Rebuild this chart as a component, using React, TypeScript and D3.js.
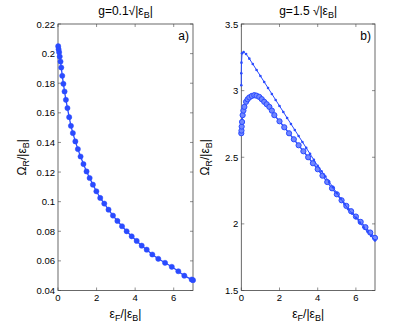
import React from "react";
import * as d3 from "d3";

// panel a) g = 0.1 sqrt|eB|
const aEps = [0.01, 0.03, 0.06, 0.09, 0.13, 0.17, 0.22, 0.28, 0.34, 0.41, 0.49, 0.58, 0.67, 0.77, 0.9, 1.03, 1.17, 1.32, 1.48, 1.64, 1.81, 1.99, 2.19, 2.4, 2.62, 2.85, 3.08, 3.32, 3.56, 3.82, 4.08, 4.34, 4.6, 4.89, 5.2, 5.55, 5.9, 6.24, 6.55, 6.93, 7.0];
const aOmega = [0.205, 0.203, 0.201, 0.198, 0.1946, 0.1906, 0.185, 0.1796, 0.1744, 0.1688, 0.1632, 0.1571, 0.1512, 0.1463, 0.1407, 0.1355, 0.1305, 0.1254, 0.1204, 0.116, 0.1115, 0.107, 0.1025, 0.0987, 0.0946, 0.0906, 0.087, 0.0834, 0.08, 0.0766, 0.0735, 0.0703, 0.0676, 0.0643, 0.0614, 0.0587, 0.056, 0.053, 0.05, 0.0474, 0.047];

// panel b) g = 1.5 sqrt|eB|, upper branch (dots)
const bUpEps = [0, 0, 0.01, 0.04, 0.12, 0.25, 0.42, 0.6, 0.8, 1.0, 1.2, 1.4, 1.6, 1.8, 2.0, 2.2, 2.4, 2.6, 2.8, 3.0, 3.2, 3.4, 3.6, 3.8, 4.0, 4.2, 4.4, 4.6, 4.8, 5.0, 5.2, 5.4, 5.6, 5.8, 6.0, 6.2, 6.4, 6.6, 6.8, 7.0];
const bUpOmega = [3.04, 3.13, 3.21, 3.28, 3.29, 3.275, 3.24, 3.2, 3.155, 3.11, 3.065, 3.02, 2.975, 2.93, 2.885, 2.84, 2.795, 2.75, 2.705, 2.66, 2.615, 2.57, 2.525, 2.48, 2.435, 2.395, 2.355, 2.315, 2.275, 2.232, 2.19, 2.15, 2.11, 2.077, 2.045, 2.01, 1.975, 1.942, 1.909, 1.876];

// panel b) lower branch (circles)
const bLoEps = [0, 0.01, 0.02, 0.04, 0.07, 0.11, 0.16, 0.25, 0.33, 0.42, 0.55, 0.68, 0.8, 0.94, 1.07, 1.2, 1.33, 1.47, 1.6, 1.73, 2.0, 2.25, 2.5, 2.75, 3.0, 3.25, 3.5, 3.75, 4.0, 4.25, 4.5, 4.75, 5.0, 5.25, 5.5, 5.75, 6.0, 6.25, 6.5, 6.75, 7.0];
const bLoOmega = [2.68, 2.7, 2.73, 2.765, 2.816, 2.85, 2.878, 2.916, 2.935, 2.949, 2.96, 2.966, 2.962, 2.953, 2.936, 2.916, 2.898, 2.878, 2.85, 2.816, 2.77, 2.725, 2.68, 2.635, 2.59, 2.545, 2.5, 2.455, 2.41, 2.362, 2.314, 2.267, 2.222, 2.177, 2.135, 2.095, 2.055, 2.015, 1.975, 1.935, 1.895];

const xTicks = [0, 2, 4, 6];
const aYTicks = [0.04, 0.06, 0.08, 0.1, 0.12, 0.14, 0.16, 0.18, 0.2, 0.22];
const bYTicks = [1.5, 2, 2.5, 3, 3.5];

const blue = "#2a4bff";
const axisColor = "#444";
const font = "Liberation Sans, Arial, sans-serif";

type Series = { xs: number[]; ys: number[]; marker: "fill" | "ring" | "dot" };

function Panel(props: {
  left: number;
  right: number;
  yDomain: [number, number];
  yTicks: number[];
  yFmt: (v: number) => string;
  coef: string;
  tag: string;
  series: Series[];
}) {
  const { left, right, yDomain, yTicks, yFmt, coef, tag, series } = props;
  const top = 24;
  const bottom = 290.5;
  const x = d3.scaleLinear().domain([0, 7]).range([left, right]);
  const y = d3.scaleLinear().domain(yDomain).range([bottom, top]);
  const tk = 3;
  const cx = (left + right) / 2;
  const cy = (top + bottom) / 2;

  return (
    <g fontFamily={font}>
      <text x={cx} y={15} textAnchor="middle" fontSize={12}>
        g={coef}√|ε<tspan fontSize={9} dy={3}>B</tspan>
        <tspan dy={-3}>|</tspan>
      </text>
      <text x={right - 4} y={40} textAnchor="end" fontSize={12}>
        {tag}
      </text>
      {/* ticks */}
      {xTicks.map((t) => (
        <g key={"x" + t}>
          <line x1={x(t)} x2={x(t)} y1={bottom} y2={bottom - tk} stroke={axisColor} strokeWidth={0.6} />
          <line x1={x(t)} x2={x(t)} y1={top} y2={top + tk} stroke={axisColor} strokeWidth={0.6} />
          <text x={x(t)} y={bottom + 10} textAnchor="middle" fontSize={9.5}>
            {t}
          </text>
        </g>
      ))}
      {yTicks.map((t) => (
        <g key={"y" + t}>
          <line x1={left} x2={left + tk} y1={y(t)} y2={y(t)} stroke={axisColor} strokeWidth={0.6} />
          <line x1={right} x2={right - tk} y1={y(t)} y2={y(t)} stroke={axisColor} strokeWidth={0.6} />
          <text x={left - 3} y={y(t) + 3.5} textAnchor="end" fontSize={9.5}>
            {yFmt(t)}
          </text>
        </g>
      ))}
      <rect x={left} y={top} width={right - left} height={bottom - top} fill="none" stroke={axisColor} strokeWidth={0.8} />
      {/* labels */}
      <text x={cx} y={318} textAnchor="middle" fontSize={12}>
        ε<tspan fontSize={9} dy={3}>F</tspan>
        <tspan dy={-3}>/|ε</tspan>
        <tspan fontSize={9} dy={3}>B</tspan>
        <tspan dy={-3}>|</tspan>
      </text>
      <text transform={`translate(${left - 32},${cy}) rotate(-90)`} textAnchor="middle" fontSize={12}>
        Ω<tspan fontSize={9} dy={3}>R</tspan>
        <tspan dy={-3}>/|ε</tspan>
        <tspan fontSize={9} dy={3}>B</tspan>
        <tspan dy={-3}>|</tspan>
      </text>
      {/* data */}
      {series.map((s, i) => {
        const pts: [number, number][] = s.xs.map((v, j) => [x(v), y(s.ys[j])]);
        const path = d3.line()(pts) || "";
        return (
          <g key={i}>
            <path d={path} fill="none" stroke={blue} strokeWidth={s.marker === "dot" ? 1 : 1.3} />
            {pts.map((p, j) =>
              s.marker === "fill" ? (
                <circle key={j} cx={p[0]} cy={p[1]} r={2.6} fill={blue} stroke={blue} strokeWidth={0.5} />
              ) : s.marker === "ring" ? (
                <circle key={j} cx={p[0]} cy={p[1]} r={2.6} fill="#7086ff" stroke={blue} strokeWidth={1} />
              ) : (
                <circle key={j} cx={p[0]} cy={p[1]} r={1.3} fill={blue} />
              )
            )}
          </g>
        );
      })}
    </g>
  );
}

export default function App() {
  return (
    <svg width={415} height={327} style={{ position: "absolute", left: 0, top: 0, background: "#fff" }}>
      <rect width={415} height={327} fill="#fff" />
      <Panel
        left={58}
        right={193}
        yDomain={[0.04, 0.22]}
        yTicks={aYTicks}
        yFmt={(v) => String(+v.toFixed(2))}
        coef="0.1"
        tag="a)"
        series={[{ xs: aEps, ys: aOmega, marker: "fill" }]}
      />
      <Panel
        left={241.3}
        right={375}
        yDomain={[1.5, 3.5]}
        yTicks={bYTicks}
        yFmt={(v) => String(v)}
        coef="1.5 "
        tag="b)"
        series={[
          { xs: bLoEps, ys: bLoOmega, marker: "ring" },
          { xs: bUpEps, ys: bUpOmega, marker: "dot" },
        ]}
      />
    </svg>
  );
}
